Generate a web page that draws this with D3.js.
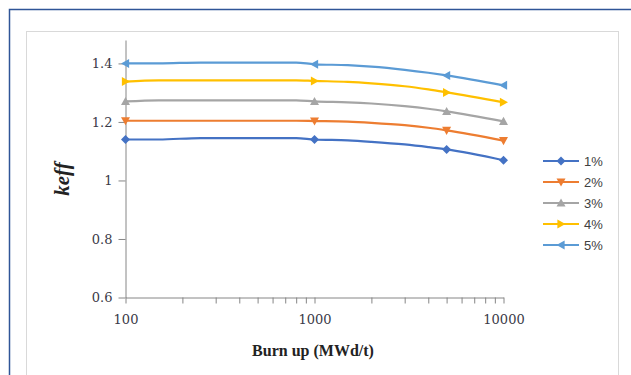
<!DOCTYPE html>
<html>
<head>
<meta charset="utf-8">
<script src="https://cdn.jsdelivr.net/npm/d3@7"></script>
<style>
  body { margin: 0; background: #fff; }
  svg { display: block; }
</style>
</head>
<body>
<svg id="chart"></svg>
<script>
// burnup points (MWd/t) and keff per enrichment
var burnup = [100, 150, 250, 800, 1000, 1500, 2000, 3000, 4000, 5000, 10000]
var markerAt = [100, 1000, 5000, 10000]
var series = ["1%", "2%", "3%", "4%", "5%"]
var keff1 = [1.140, 1.140, 1.145, 1.145, 1.140, 1.137, 1.132, 1.123, 1.114, 1.106, 1.069]
var keff2 = [1.204, 1.204, 1.204, 1.204, 1.203, 1.201, 1.197, 1.189, 1.180, 1.171, 1.136]
var keff3 = [1.270, 1.274, 1.274, 1.274, 1.270, 1.267, 1.263, 1.254, 1.245, 1.236, 1.202]
var keff4 = [1.338, 1.342, 1.342, 1.342, 1.340, 1.337, 1.332, 1.322, 1.311, 1.301, 1.267]
var keff5 = [1.400, 1.400, 1.403, 1.403, 1.397, 1.394, 1.389, 1.378, 1.368, 1.359, 1.325]
var yTicks = [0.6, 0.8, 1, 1.2, 1.4]
var xTicks = [100, 1000, 10000]

var colors = ["#4472C4", "#ED7D31", "#A5A5A5", "#FFC000", "#5B9BD5"]
var symbols = ["diamond", "down", "up", "right", "left"]
var allKeff = [keff1, keff2, keff3, keff4, keff5]

var width = 631, height = 375
var svg = d3.select("#chart").attr("width", width).attr("height", height)

// frames
svg.append("rect").attr("x", 9.5).attr("y", 9.5).attr("width", 640).attr("height", 400)
    .attr("fill", "none").attr("stroke", "#2F5597").attr("stroke-width", 1.5)
svg.append("rect").attr("x", 26.5).attr("y", 31.5).attr("width", 592).attr("height", 400)
    .attr("fill", "#fff").attr("stroke", "#d9d9d9").attr("stroke-width", 1)

var x = d3.scaleLog().domain([100, 10000]).range([125.5, 503.5])
var y = d3.scaleLinear().domain([0.6, 1.48]).range([297.5, 40])

// x axis with minor ticks
var minor = []
for (var d = 100; d <= 10000; d *= 10) for (var k = 1; k < 10; k++) if (d * k <= 10000) minor.push(d * k)
var xa = svg.append("g").attr("transform", "translate(0,297.5)")
    .call(d3.axisBottom(x).tickValues(minor).tickSize(6).tickSizeOuter(0)
        .tickFormat(function(v) { return xTicks.indexOf(v) >= 0 ? v : "" }))
xa.select(".domain").attr("stroke", "#868686")
xa.selectAll("line").attr("stroke", "#868686")
xa.selectAll("text").attr("fill", "#3a3a48").style("font-family", "DejaVu Serif")
    .style("font-size", "13px").attr("y", 17).attr("dy", "0.71em")

var ya = svg.append("g").attr("transform", "translate(125.5,0)")
    .call(d3.axisLeft(y).tickValues(yTicks).tickSize(7).tickSizeOuter(0).tickFormat(d3.format("")))
ya.select(".domain").attr("stroke", "#868686")
ya.selectAll("line").attr("stroke", "#868686")
ya.selectAll("text").attr("fill", "#3a3a48").style("font-family", "DejaVu Serif")
    .style("font-size", "13px").attr("x", -13)

function markerPath(s, size) {
    var r = size
    if (s == "diamond") return "M0," + (-r) + "L" + r + ",0L0," + r + "L" + (-r) + ",0Z"
    if (s == "down") return "M" + (-r) + "," + (-r * 0.8) + "L" + r + "," + (-r * 0.8) + "L0," + r + "Z"
    if (s == "up") return "M" + (-r) + "," + (r * 0.8) + "L" + r + "," + (r * 0.8) + "L0," + (-r) + "Z"
    if (s == "right") return "M" + (-r * 0.8) + "," + (-r) + "L" + (-r * 0.8) + "," + r + "L" + r + ",0Z"
    return "M" + (r * 0.8) + "," + (-r) + "L" + (r * 0.8) + "," + r + "L" + (-r) + ",0Z"
}

var line = d3.line().curve(d3.curveMonotoneX)
    .x(function(d) { return x(d[0]) }).y(function(d) { return y(d[1]) })

allKeff.forEach(function(vals, i) {
    var pts = burnup.map(function(b, j) { return [b, vals[j]] })
    svg.append("path").datum(pts).attr("d", line)
        .attr("fill", "none").attr("stroke", colors[i]).attr("stroke-width", 2.2)
        .attr("stroke-linejoin", "round")
    svg.selectAll(".m" + i).data(pts.filter(function(p) { return markerAt.indexOf(p[0]) >= 0 }))
        .enter().append("path")
        .attr("transform", function(p) { return "translate(" + x(p[0]) + "," + y(p[1]) + ")" })
        .attr("d", markerPath(symbols[i], 4.5))
        .attr("fill", colors[i])
})

// legend
var leg = svg.append("g")
series.forEach(function(name, i) {
    var ly = 161 + i * 21
    leg.append("line").attr("x1", 543).attr("x2", 579).attr("y1", ly).attr("y2", ly)
        .attr("stroke", colors[i]).attr("stroke-width", 2.2)
    leg.append("path").attr("transform", "translate(561," + ly + ")")
        .attr("d", markerPath(symbols[i], 4.5)).attr("fill", colors[i])
    leg.append("text").attr("x", 584).attr("y", ly).attr("dy", "0.35em")
        .style("font-family", "Liberation Sans").style("font-size", "13px").attr("fill", "#404040")
        .text(name)
})

// titles
svg.append("text").attr("x", 313).attr("y", 356).attr("text-anchor", "middle")
    .style("font-family", "Liberation Serif").attr("font-weight", "bold").style("font-size", "16px")
    .attr("fill", "#222").text("Burn up (MWd/t)")
svg.append("text").attr("transform", "translate(69,179) rotate(-90)").attr("text-anchor", "middle")
    .style("font-family", "Liberation Serif").attr("font-weight", "bold").attr("font-style", "italic")
    .style("font-size", "21px").attr("fill", "#222").text("keff")
</script>
</body>
</html>
